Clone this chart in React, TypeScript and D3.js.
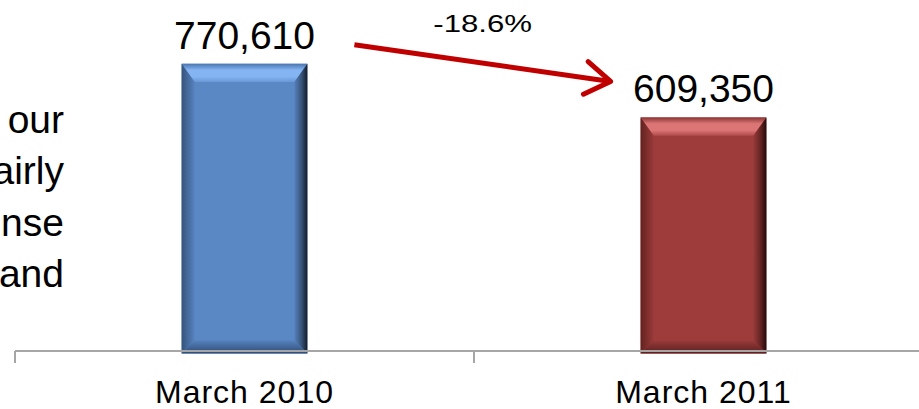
import React from "react";
import * as d3 from "d3";

// Headcount comparison between two reporting dates
const categories: string[] = ["March 2010", "March 2011"];
const values: number[] = [770610, 609350];
const changeLabel = "-18.6%";
// Right-hand ends of the side text lines that run off the left edge
const sideTextLines: string[] = ["our", "airly", "nse", "and"];

type Palette = { face: string; topOuter: string; topHi: string; topInner: string; leftOuter: string; leftInner: string; rightOuter: string; rightInner: string; bottomOuter: string; bottomInner: string };

const palettes: Palette[] = [
  {
    face: "#5a88c5",
    topOuter: "#4a76b0",
    topHi: "#84b4f2",
    topInner: "#6a98d6",
    leftOuter: "#35537c",
    leftInner: "#5783bf",
    rightOuter: "#141c27",
    rightInner: "#5581bc",
    bottomOuter: "#2f4c74",
    bottomInner: "#5581bd",
  },
  {
    face: "#9e3c3c",
    topOuter: "#8a3434",
    topHi: "#dc7676",
    topInner: "#b14c4c",
    leftOuter: "#62221f",
    leftInner: "#993a3a",
    rightOuter: "#230a0a",
    rightInner: "#9a3a3a",
    bottomOuter: "#5a1f1f",
    bottomInner: "#983a3a",
  },
];

const W = 919;
const H = 409;
const FONT = "'Liberation Sans', Arial, Helvetica, sans-serif";

export default function App() {
  const x = d3.scaleBand<string>().domain(categories).range([15, 933]).padding(0);
  const y = d3.scaleLinear().domain([-100000, 900000]).range([353.5, 20.7]);
  const axisY = 351;
  const barW = x.bandwidth() * 0.274;
  const bevel = 13;

  const bars = categories.map((c, i) => {
    const cx = (x(c) as number) + x.bandwidth() / 2;
    const x0 = cx - barW / 2;
    const x1 = cx + barW / 2;
    const y0 = y(values[i]);
    const y1 = y(-100000);
    return { c, i, cx, x0, x1, y0, y1, v: values[i] };
  });

  const tickXs = [...categories.map((c) => x(c) as number), x.range()[1]];
  const fmt = d3.format(",");

  // arrow between the two value labels
  const a = bars[0];
  const b = bars[1];
  const arrowStart: [number, number] = [a.x1 + 47, a.y0 - 19];
  const arrowEnd: [number, number] = [b.x0 - 30, b.y0 - 36];
  const ang = Math.atan2(arrowEnd[1] - arrowStart[1], arrowEnd[0] - arrowStart[0]);
  const headLen = 30;
  const headSpread = 0.58;
  const h1: [number, number] = [arrowEnd[0] - headLen * Math.cos(ang - headSpread), arrowEnd[1] - headLen * Math.sin(ang - headSpread)];
  const h2: [number, number] = [arrowEnd[0] - headLen * Math.cos(ang + headSpread), arrowEnd[1] - headLen * Math.sin(ang + headSpread)];
  const line = d3.line();

  return (
    <div style={{ position: "fixed", left: 0, top: 0, width: W, height: H, background: "#fff" }}>
      <svg width={W} height={H} viewBox={`0 0 ${W} ${H}`} style={{ display: "block", fontFamily: FONT }}>
        <defs>
          {palettes.map((p, i) => (
            <React.Fragment key={i}>
              <linearGradient id={`top${i}`} x1="0" y1="0" x2="0" y2="1">
                <stop offset="0" stopColor={p.topOuter} />
                <stop offset="0.35" stopColor={p.topHi} />
                <stop offset="0.7" stopColor={p.topHi} />
                <stop offset="1" stopColor={p.topInner} />
              </linearGradient>
              <linearGradient id={`left${i}`} x1="0" y1="0" x2="1" y2="0">
                <stop offset="0" stopColor={p.leftOuter} />
                <stop offset="1" stopColor={p.leftInner} />
              </linearGradient>
              <linearGradient id={`right${i}`} x1="0" y1="0" x2="1" y2="0">
                <stop offset="0" stopColor={p.rightInner} />
                <stop offset="0.55" stopColor={d3.interpolateRgb(p.rightInner, p.rightOuter)(0.45)} />
                <stop offset="1" stopColor={p.rightOuter} />
              </linearGradient>
              <linearGradient id={`bottom${i}`} x1="0" y1="0" x2="0" y2="1">
                <stop offset="0" stopColor={p.bottomInner} />
                <stop offset="1" stopColor={p.bottomOuter} />
              </linearGradient>
            </React.Fragment>
          ))}
        </defs>

        {/* side text, clipped by the left edge */}
        <g fontSize={39} fill="#000" textAnchor="end">
          {sideTextLines.map((t, i) => (
            <text key={t} x={64} y={133 + i * 51.3}>
              {t}
            </text>
          ))}
        </g>

        {/* beveled bars */}
        {bars.map(({ c, i, x0, x1, y0, y1 }) => {
          const p = palettes[i];
          const pts = (arr: number[][]) => arr.map((q) => q.join(",")).join(" ");
          return (
            <g key={c}>
              <rect x={x0} y={y0} width={x1 - x0} height={y1 - y0} fill={p.face} />
              <polygon points={pts([[x0, y0], [x1, y0], [x1 - bevel, y0 + bevel * 1.4], [x0 + bevel, y0 + bevel * 1.4]])} fill={`url(#top${i})`} />
              <polygon points={pts([[x0, y0], [x0 + bevel, y0 + bevel * 1.4], [x0 + bevel, y1 - bevel], [x0, y1]])} fill={`url(#left${i})`} />
              <polygon points={pts([[x1, y0], [x1, y1], [x1 - bevel, y1 - bevel], [x1 - bevel, y0 + bevel * 1.4]])} fill={`url(#right${i})`} />
              <polygon points={pts([[x0, y1], [x0 + bevel, y1 - bevel], [x1 - bevel, y1 - bevel], [x1, y1]])} fill={`url(#bottom${i})`} />
            </g>
          );
        })}

        {/* category axis */}
        <g stroke="#a6a6a6" strokeWidth={2} fill="none">
          <line x1={x.range()[0]} x2={x.range()[1]} y1={axisY} y2={axisY} />
          {tickXs.map((tx, i) => (
            <line key={i} x1={tx} x2={tx} y1={axisY} y2={axisY + 12} />
          ))}
        </g>
        <g fontSize={32} fill="#000" textAnchor="middle" letterSpacing={1}>
          {bars.map(({ c, cx }) => (
            <text key={c} x={cx} y={403}>
              {c}
            </text>
          ))}
        </g>

        {/* value labels */}
        <g fontSize={39} fill="#000" textAnchor="middle">
          {bars.map(({ c, cx, y0, v }) => (
            <text key={c} x={cx} y={y0 - 15}>
              {fmt(v)}
            </text>
          ))}
        </g>

        {/* change annotation */}
        <g stroke="#c00000" strokeWidth={5} fill="none" strokeLinecap="round" strokeLinejoin="round">
          <path d={line([arrowStart, arrowEnd]) as string} strokeLinecap="butt" />
          <path d={line([h1, arrowEnd, h2]) as string} />
        </g>
        <g transform="translate(482.7,32.3) scale(1.3,1)">
          <text x={0} y={0} fontSize={24} fill="#000" textAnchor="middle">
            {changeLabel}
          </text>
        </g>
      </svg>
    </div>
  );
}
